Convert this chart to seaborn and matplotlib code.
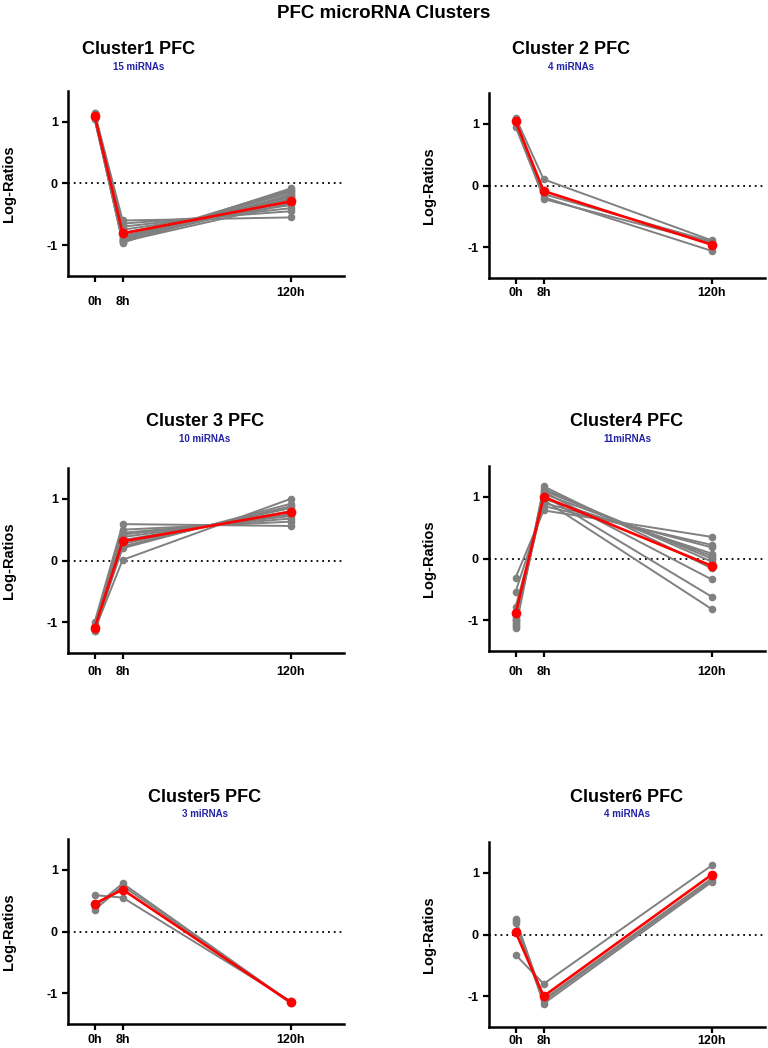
import numpy as np
import pandas as pd
import matplotlib
matplotlib.use("Agg")
import matplotlib.pyplot as plt
import seaborn as sns

# Time points and where they sit on the x axis
times = ['0h', '8h', '120h']
time_pos = [0, 1, 7]

# Cluster 1 (15 miRNAs): values at 0h, 8h, 120h
c1_0h = [1.15, 1.12, 1.10, 1.08, 1.05, 1.13, 1.09, 1.11, 1.06, 1.14, 1.07, 1.10, 1.12, 1.04, 1.08]
c1_8h = [-0.60, -0.65, -0.70, -0.75, -0.80, -0.85, -0.88, -0.90, -0.92, -0.93, -0.95, -0.87, -0.91, -0.94, -0.96]
c1_120h = [-0.55, -0.45, -0.40, -0.35, -0.30, -0.25, -0.20, -0.15, -0.10, -0.12, -0.18, -0.22, -0.28, -0.32, -0.08]
c1_mean = [1.10, -0.81, -0.29]

# Cluster 2 (4 miRNAs)
c2_0h = [1.10, 1.05, 0.95, 1.06]
c2_8h = [0.10, -0.14, -0.19, -0.22]
c2_120h = [-0.89, -0.91, -1.06, -0.93]
c2_mean = [1.04, -0.09, -0.96]

# Cluster 3 (10 miRNAs)
c3_0h = [-1.00, -1.05, -1.08, -1.10, -1.12, -1.14, -1.15, -1.06, -1.11, -1.13]
c3_8h = [0.59, 0.50, 0.45, 0.42, 0.38, 0.33, 0.27, 0.23, 0.20, 0.01]
c3_120h = [0.56, 0.63, 0.68, 0.72, 0.75, 0.80, 0.85, 0.88, 0.92, 1.00]
c3_mean = [-1.10, 0.31, 0.79]

# Cluster 4 (11 miRNAs)
c4_0h = [-0.31, -0.54, -0.78, -0.95, -1.00, -1.05, -1.08, -1.10, -1.13, -1.02, -0.98]
c4_8h = [0.78, 0.85, 0.90, 0.97, 1.05, 1.10, 1.13, 1.17, 1.08, 1.02, 0.95]
c4_120h = [0.35, 0.22, 0.18, 0.08, 0.04, 0.00, -0.05, -0.16, -0.34, -0.62, -0.82]
c4_mean = [-0.89, 1.00, -0.12]

# Cluster 5 (3 miRNAs)
c5_0h = [0.59, 0.40, 0.35]
c5_8h = [0.55, 0.78, 0.74]
c5_120h = [-1.13, -1.15, -1.16]
c5_mean = [0.45, 0.68, -1.15]

# Cluster 6 (4 miRNAs)
c6_0h = [-0.33, 0.25, 0.22, 0.18]
c6_8h = [-0.80, -1.05, -1.08, -1.12]
c6_120h = [1.12, 0.91, 0.88, 0.85]
c6_mean = [0.04, -1.00, 0.97]

titles = ['Cluster1 PFC', 'Cluster 2 PFC', 'Cluster 3 PFC', 'Cluster4 PFC', 'Cluster5 PFC', 'Cluster6 PFC']
subtitles = ['15 miRNAs', '4 miRNAs', '10 miRNAs', '11miRNAs', '3 miRNAs', '4 miRNAs']

clusters = [
    (c1_0h, c1_8h, c1_120h, c1_mean),
    (c2_0h, c2_8h, c2_120h, c2_mean),
    (c3_0h, c3_8h, c3_120h, c3_mean),
    (c4_0h, c4_8h, c4_120h, c4_mean),
    (c5_0h, c5_8h, c5_120h, c5_mean),
    (c6_0h, c6_8h, c6_120h, c6_mean),
]

sns.set_style('ticks')
plt.rcParams['font.family'] = ['Liberation Sans', 'DejaVu Sans']
plt.rcParams['font.weight'] = 'bold'
plt.rcParams['text.color'] = 'black'
plt.rcParams['xtick.color'] = 'black'
plt.rcParams['ytick.color'] = 'black'
plt.rcParams['axes.labelcolor'] = 'black'

W, H = 768, 1048
fig = plt.figure(figsize=(W / 100, H / 100), dpi=100)

# axes boxes in pixels: left, top, right, bottom
boxes = [
    (68, 91, 344, 276),
    (489, 93, 765, 278),
    (68, 468, 344, 653),
    (489, 466, 765, 651),
    (68, 839, 344, 1024),
    (489, 842, 765, 1027),
]
# title centres (x, y) in pixels
title_xy = [(139, 50), (571, 50), (205, 422), (627, 422), (205, 797), (627, 797)]
ylabel_x = [9, 429, 9, 429, 9, 429]
# distance (px) from axis line to x tick label centre, per tick
label_off = [(26, 26, 17), (15, 15, 15), (19, 19, 19), (21, 21, 21), (16, 16, 16), (14, 14, 14)]

fig.text(384 / W, 1 - 13 / H, 'PFC microRNA Clusters', ha='center', va='center',
         fontsize=13.5, fontweight='bold')

for i, (v0, v8, v120, mean) in enumerate(clusters):
    l, t, r, b = boxes[i]
    ax = fig.add_axes([l / W, 1 - b / H, (r - l) / W, (b - t) / H])

    rows = []
    for j, vals in enumerate([v0, v8, v120]):
        for k, v in enumerate(vals):
            rows.append({'mirna': k, 'pos': time_pos[j], 'value': v})
    df = pd.DataFrame(rows)

    ax.axhline(0, color='black', lw=1.3, ls=(0, (1, 2.2)), zorder=1)

    sns.lineplot(data=df, x='pos', y='value', units='mirna', estimator=None,
                 color='#808080', marker='o', markersize=5.5, markeredgewidth=0,
                 lw=1.4, ax=ax, legend=False, zorder=2)
    sns.lineplot(x=time_pos, y=mean, color='#ff0000', marker='o', markersize=7,
                 markeredgewidth=0, lw=1.9, ax=ax, legend=False, zorder=3)

    ax.set_xlim(-0.95, 8.9)
    ax.set_ylim(-1.5, 1.5)
    ax.set_xticks(time_pos)
    ax.set_xticklabels(times, fontsize=9, fontweight='bold')
    ax.set_yticks([-1, 0, 1])
    ax.set_yticklabels(['-1', '0', '1'], fontsize=9, fontweight='bold')
    ax.tick_params(axis='x', length=4.3, width=1.6)
    ax.tick_params(axis='y', length=4.3, width=1.6, pad=3)
    for tick, off in zip(ax.xaxis.get_major_ticks(), label_off[i]):
        tick.set_pad(max(off - 6 - 6, 0) * 0.72)
    ax.set_xlabel('')
    ax.set_ylabel('')
    sns.despine(ax=ax)
    for s in ['left', 'bottom']:
        ax.spines[s].set_linewidth(1.8)
        ax.spines[s].set_color('black')

    fig.text(ylabel_x[i] / W, 1 - ((t + b) / 2) / H, 'Log-Ratios', rotation=90,
             ha='center', va='center', fontsize=10.5, fontweight='bold')
    tx, ty = title_xy[i]
    fig.text(tx / W, 1 - ty / H, titles[i], ha='center', va='center',
             fontsize=13, fontweight='bold')
    fig.text(tx / W, 1 - (ty + 17) / H, subtitles[i], ha='center', va='center',
             fontsize=7, fontweight='bold', color='#2323a6')

fig.savefig('out.png', dpi=100)
